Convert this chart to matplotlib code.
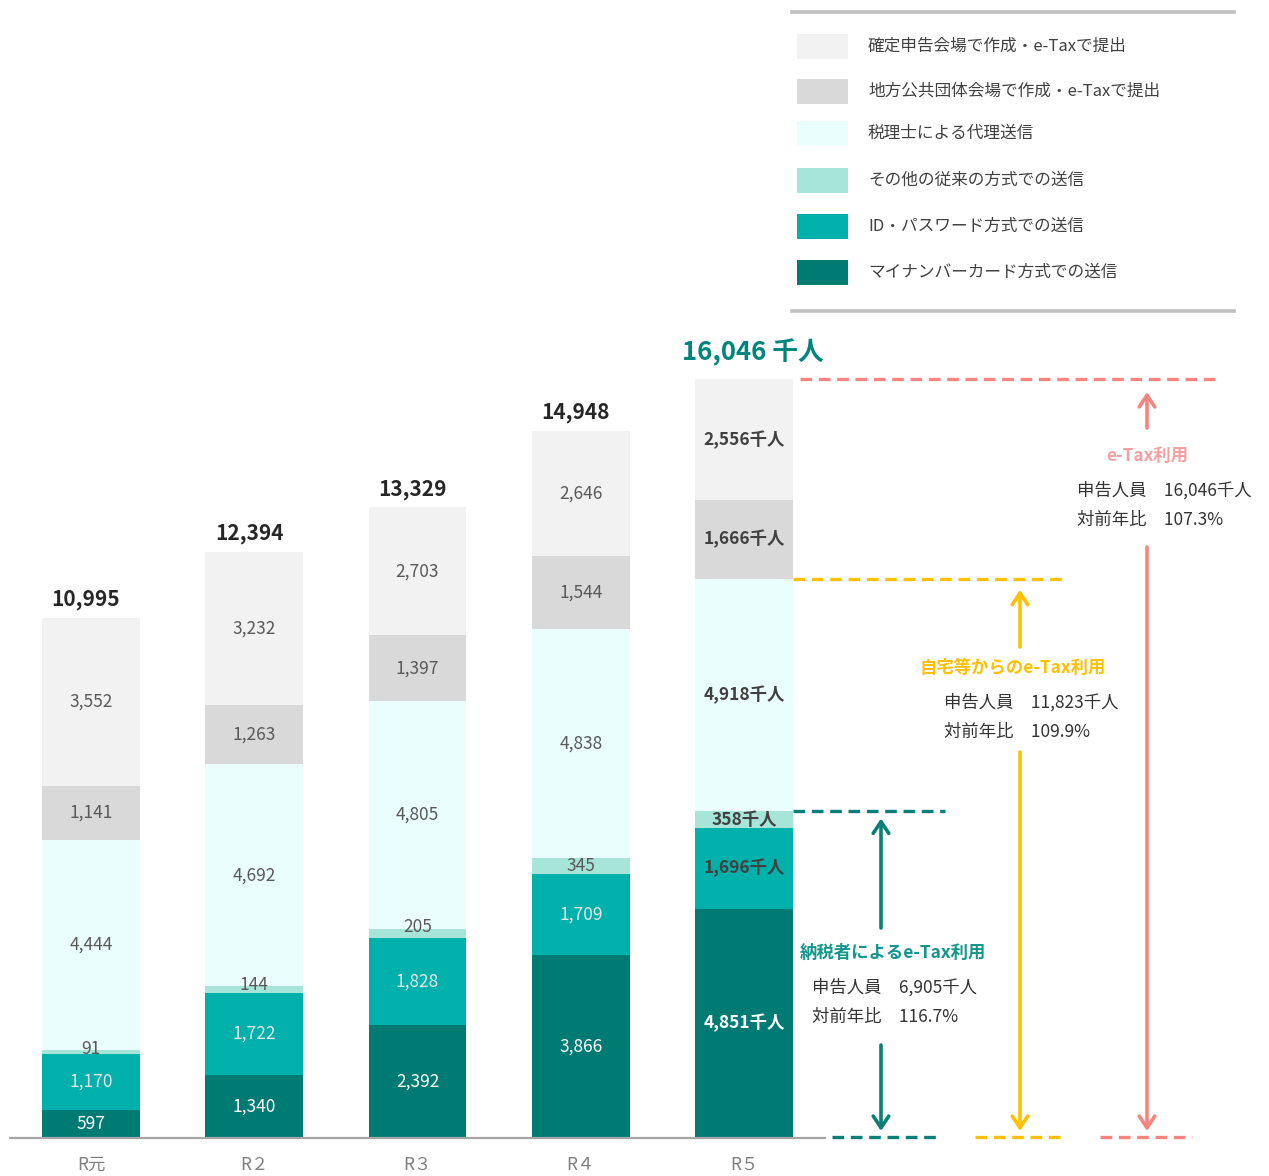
import numpy as np
import matplotlib
matplotlib.use('Agg')
import matplotlib.pyplot as plt
from matplotlib.patches import Rectangle

plt.rcParams['font.family'] = ['Noto Sans CJK JP', 'DejaVu Sans']

#------------------------データ-----------------------------
years = ['R元', 'R２', 'R３', 'R４', 'R５']
mynumber = [597, 1340, 2392, 3866, 4851]   # マイナンバーカード方式
idpw = [1170, 1722, 1828, 1709, 1696]      # ID・パスワード方式
other = [91, 144, 205, 345, 358]           # その他の従来の方式
zeirishi = [4444, 4692, 4805, 4838, 4918]  # 税理士による代理送信
chiho = [1141, 1263, 1397, 1544, 1666]     # 地方公共団体会場
kaijo = [3552, 3232, 2703, 2646, 2556]     # 確定申告会場
totals = [10995, 12394, 13329, 14948, 16046]

series = [mynumber, idpw, other, zeirishi, chiho, kaijo]
names = ['マイナンバーカード方式での送信', 'ID・パスワード方式での送信',
         'その他の従来の方式での送信', '税理士による代理送信',
         '地方公共団体会場で作成・e-Taxで提出', '確定申告会場で作成・e-Taxで提出']
colors = ['#007B74', '#00B0AA', '#A6E5D8', '#EBFEFE', '#D9D9D9', '#F2F2F2']
lab_colors = ['white', '#E6E6E6', '#595959', '#595959', '#595959', '#595959']
r5_colors = ['white', '#404040', '#404040', '#404040', '#404040', '#404040']

ratios = ['116.7%', '109.9%', '107.3%']
heads = ['納税者によるe-Tax利用', '自宅等からのe-Tax利用', 'e-Tax利用']

#------------------------レイアウト-----------------------------
W, H = 1269, 1176
base = 1138      # 基準線のピクセル位置
k = 0.0473       # 1千人あたりのピクセル
x0, step = 91, 163.25

def px(x):
    return (x - x0) / step

def py(y):
    return (base - y) / k

fig = plt.figure(figsize=(W / 100, H / 100), dpi=100)
ax = fig.add_axes([0, (H - base) / H, 1, base / H])
ax.set_xlim(px(0), px(W))
ax.set_ylim(0, py(0))
ax.axis('off')

xs = np.arange(len(years))
bottom = np.zeros(len(years))
for i, vals in enumerate(series):
    ax.bar(xs, vals, 0.6, bottom=bottom, color=colors[i], lw=0, zorder=2)
    for j, v in enumerate(vals):
        if j == 4:
            ax.text(j, bottom[j] + v / 2, f'{v:,}千人', ha='center', va='center',
                    fontsize=12.5, fontweight='bold', color=r5_colors[i], zorder=3)
        else:
            yy = bottom[j] + v + 30 if v < 300 else bottom[j] + v / 2
            ax.text(j, yy, f'{v:,}', ha='center', va='center',
                    fontsize=12.5, color=lab_colors[i], zorder=3)
    bottom += np.array(vals)

for j, t in enumerate(totals[:4]):
    ax.text(j - 5 / step, t + 18 / k, f'{t:,}', ha='center', va='center',
            fontsize=15, fontweight='bold', color='#262626')
ax.text(px(753), totals[4] + 26 / k, f'{totals[4]:,} 千人', ha='center', va='center',
        fontsize=18.5, fontweight='bold', color='#00857D')

# 基準線とラベル
ax.plot([px(10), px(825)], [0, 0], color='#A6A6A6', lw=1.6, zorder=4, clip_on=False)
for j, y in enumerate(years):
    ax.text(j, py(1165), y, ha='center', va='center', fontsize=12.5, color='#7F7F7F')

#------------------------e-Tax注記-----------------------------
levels = [mynumber[4] + idpw[4] + other[4]]
levels.append(levels[0] + zeirishi[4])
levels.append(totals[4])

acol = ['#0A7F77', '#FFC000', '#F7857F']
hcol = ['#13968C', '#FFC000', '#F4A0A0']
top_x = [(793, 945), (793, 1065), (800, 1215)]
bot_x = [(832, 940), (975, 1065), (1100, 1192)]
arr_x = [881, 1020, 1147]
up_start = [928, 647, 428]
dn_start = [1045, 752, 547]
tip_gap = [7, 11, 13]
head_pos = [(893, 953), (1013, 668), (1147, 456)]
line_x = [812, 944, 1077]
count_txt = [f'{v:,}千人' for v in levels]

dash = (0, (3.5, 2))
for g in range(3):
    c = acol[g]
    ax.plot([px(top_x[g][0]), px(top_x[g][1])], [levels[g]] * 2, color=c, lw=2.4, ls=dash)
    ax.plot([px(bot_x[g][0]), px(bot_x[g][1])], [py(1137)] * 2, color=c, lw=2.4, ls=dash,
            clip_on=False)
    aprops = dict(arrowstyle='->,head_length=0.6,head_width=0.4', color=c, lw=2.6,
                  mutation_scale=14, shrinkA=0, shrinkB=0)
    ax.annotate('', xy=(px(arr_x[g]), levels[g] - tip_gap[g] / k),
                xytext=(px(arr_x[g]), py(up_start[g])), arrowprops=aprops)
    ax.annotate('', xy=(px(arr_x[g]), 7 / k),
                xytext=(px(arr_x[g]), py(dn_start[g])), arrowprops=aprops)
    hx, hy = head_pos[g]
    ax.text(px(hx), py(hy), heads[g], ha='center', va='center', fontsize=12.5,
            fontweight='bold', color=hcol[g])
    ax.text(px(line_x[g]), py(hy + 34), '申告人員\u3000' + count_txt[g], ha='left',
            va='center', fontsize=12.5, color='#333333')
    ax.text(px(line_x[g]), py(hy + 64), '対前年比\u3000' + ratios[g], ha='left',
            va='center', fontsize=12.5, color='#333333')

#------------------------凡例-----------------------------
lax = fig.add_axes([0, 0, 1, 1], zorder=-1)
lax.set_xlim(0, W)
lax.set_ylim(H, 0)
lax.axis('off')
lax.plot([792, 1234], [12, 12], color='#C0C0C0', lw=2.6)
lax.plot([792, 1234], [311, 311], color='#C0C0C0', lw=2.6)
leg_y = [46, 91, 133, 180, 226, 272]
for n, i in enumerate(range(len(series) - 1, -1, -1)):
    lax.add_patch(Rectangle((797, leg_y[n] - 12), 51, 25, color=colors[i], lw=0))
    lax.text(868, leg_y[n], names[i], ha='left', va='center', fontsize=12, color='#404040')

fig.savefig('out.png', dpi=100)
